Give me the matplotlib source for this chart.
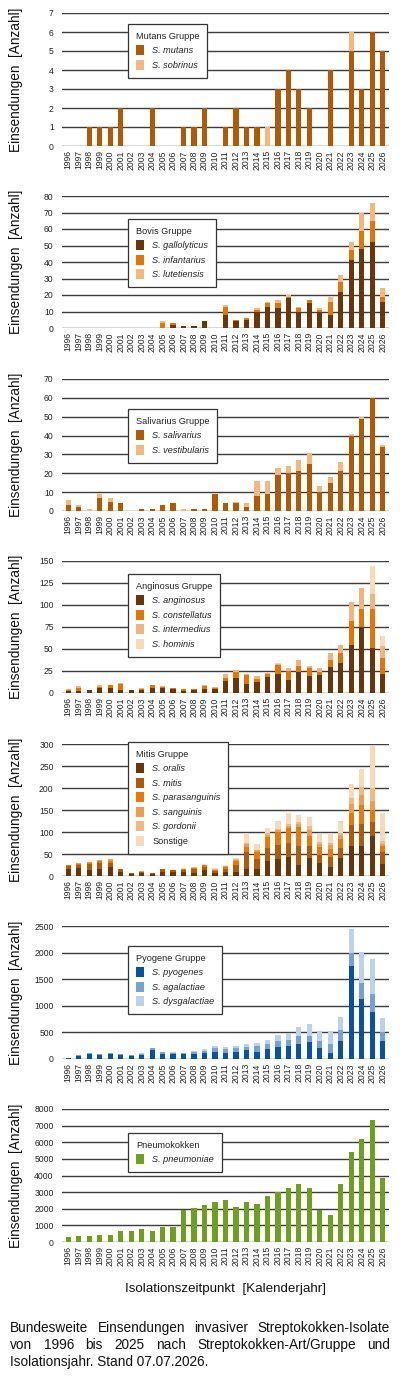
import matplotlib
matplotlib.use('Agg')
import matplotlib.pyplot as plt
import numpy as np
from matplotlib.patches import Patch

plt.rcParams['font.family'] = ['Liberation Sans', 'DejaVu Sans']

years = [str(y) for y in range(1996, 2027)]

# ---------------- data ----------------
mutans_names = ["S. mutans", "S. sobrinus"]
mutans_mutans = [0,0,1,1,1,2,0,0,2,0,0,1,1,2,0,1,2,1,1,0,3,4,3,2,0,4,0,5,3,6,5]
mutans_sobrinus = [0,0,0,0,0,0,0,0,0,0,0,0,0,0,0,0,0,0,0,1,0,0,0,0,0,0,0,1,0,0,0]

bovis_names = ["S. gallolyticus", "S. infantarius", "S. lutetiensis"]
bovis_gallolyticus = [0,0,0,0,0,0,0,0,0,0,2,1,1,4,0,8,4,5,10,13,12,18,10,15,10,8,22,41,48,52,16]
bovis_infantarius = [0,0,0,0,0,0,0,0,0,3,1,0,0,0,0,5,1,1,1,2,3,1,2,2,1,8,6,6,11,13,3]
bovis_lutetiensis = [0,0,0,0,0,0,0,0,0,1,0,0,0,0,0,1,0,0,1,1,2,1,1,0,1,3,4,5,11,11,5]

saliv_names = ["S. salivarius", "S. vestibularis"]
saliv_salivarius = [3,2,0,7,5,4,0,1,1,3,4,0,1,1,9,4,4,2,8,9,19,20,21,25,10,15,21,40,49,60,34]
saliv_vestibularis = [3,1,1,2,2,0,0,0,0,0,0,1,0,0,0,0,1,2,8,7,4,4,6,6,3,3,5,1,1,0,1]

angin_names = ["S. anginosus", "S. constellatus", "S. intermedius", "S. hominis"]
angin_anginosus = [2,2,3,6,6,3,3,3,6,6,4,2,3,5,4,14,17,10,12,18,22,15,24,19,21,29,34,55,75,51,22]
angin_constellatus = [1,4,0,1,3,7,0,2,3,1,2,2,1,3,2,3,7,11,4,4,10,10,7,9,3,9,12,27,21,44,18]
angin_intermedius = [1,2,0,2,0,1,0,1,0,1,0,1,1,1,1,5,2,1,3,1,1,3,7,3,4,7,9,21,23,17,13]
angin_hominis = [0,0,0,0,0,0,0,0,0,0,0,0,0,0,0,0,0,0,0,0,1,0,0,0,0,0,0,0,0,32,12]

mitis_names = ["S. oralis", "S. mitis", "S. parasanguinis", "S. sanguinis", "S. gordonii", "Sonstige"]
mitis_oralis = [15,18,14,17,20,10,4,6,5,10,9,8,6,13,7,9,8,15,17,33,38,44,26,41,30,21,40,69,69,91,27]
mitis_mitis = [8,8,14,12,10,6,2,4,2,5,4,5,9,8,4,8,18,40,22,30,33,32,42,27,18,22,24,48,49,31,28]
mitis_parasanguinis = [1,2,2,4,5,1,0,0,0,1,1,2,3,3,2,3,8,12,15,25,28,32,44,24,19,19,21,26,44,29,13]
mitis_sanguinis = [1,1,2,3,3,0,0,1,0,0,0,1,1,1,1,2,3,5,4,6,5,6,6,12,6,8,9,21,22,20,5]
mitis_gordonii = [0,0,0,0,0,0,0,0,0,0,0,1,1,1,1,1,1,3,2,4,3,5,4,9,5,6,4,13,18,30,6]
mitis_sonstige = [0,0,0,0,0,0,0,0,0,0,0,2,0,2,4,2,4,22,13,11,18,24,17,21,18,22,26,32,41,95,65]

pyo_names = ["S. pyogenes", "S. agalactiae", "S. dysgalactiae"]
pyo_pyogenes = [15,55,100,80,85,75,60,70,175,100,95,90,100,110,135,120,130,170,135,185,225,245,290,320,200,120,340,1740,1130,880,340]
pyo_agalactiae = [10,15,15,15,20,20,20,25,25,25,25,20,30,45,75,75,70,60,100,90,120,115,140,120,140,170,200,260,290,350,170]
pyo_dysgalactiae = [0,0,0,0,0,0,0,10,10,5,5,5,15,25,30,35,40,45,60,80,110,130,170,220,185,235,250,450,590,650,270]

pneumo_names = ["S. pneumoniae"]
pneumo_pneumoniae = [280,350,360,420,420,640,640,770,680,920,880,1920,2060,2200,2400,2520,2100,2430,2280,2740,3000,3260,3480,3240,1930,1650,3480,5420,6220,7320,3830]

group_titles = ["Mutans Gruppe", "Bovis Gruppe", "Salivarius Gruppe", "Anginosus Gruppe",
                "Mitis Gruppe", "Pyogene Gruppe", "Pneumokokken"]

ylabel = "Einsendungen  [Anzahl]"
xlabel = "Isolationszeitpunkt  [Kalenderjahr]"
caption_lines = ["Bundesweite Einsendungen invasiver Streptokokken-Isolate",
                 "von 1996 bis 2025 nach Streptokokken-Art/Gruppe und",
                 "Isolationsjahr. Stand 07.07.2026."]

# ---------------- styles ----------------
panels = [
    (mutans_names, [mutans_mutans, mutans_sobrinus], ["#B05A08", "#F2B880"], 7, 1, 24),
    (bovis_names, [bovis_gallolyticus, bovis_infantarius, bovis_lutetiensis],
     ["#6A3508", "#E07508", "#F2B880"], 80, 10, 219),
    (saliv_names, [saliv_salivarius, saliv_vestibularis], ["#B05A08", "#F2B880"], 70, 10, 409),
    (angin_names, [angin_anginosus, angin_constellatus, angin_intermedius, angin_hominis],
     ["#6A3508", "#E07508", "#F0B57E", "#F8D9BA"], 150, 25, 574),
    (mitis_names, [mitis_oralis, mitis_mitis, mitis_parasanguinis, mitis_sanguinis, mitis_gordonii, mitis_sonstige],
     ["#6A3508", "#B05A08", "#E87808", "#EE9C50", "#F2B880", "#F8D9BA"], 300, 50, 742),
    (pyo_names, [pyo_pyogenes, pyo_agalactiae, pyo_dysgalactiae],
     ["#0A52A0", "#74A2D2", "#BCD2EC"], 2500, 500, 946),
    (pneumo_names, [pneumo_pneumoniae], ["#6E9F1E"], 8000, 1000, 1133),
]

W, H = 400, 1377
fig = plt.figure(figsize=(W/100, H/100), dpi=100)
tops = [13, 196, 379, 561, 744, 926, 1109]
bots = [146, 328, 511, 693, 876, 1059, 1242]
left_px, right_px = 62, 389

x = np.arange(len(years))
for i, (names, series, colors, ymax, step, leg_top) in enumerate(panels):
    t, b = tops[i], bots[i]
    ax = fig.add_axes([left_px/W, 1 - b/H, (right_px-left_px)/W, (b-t)/H])
    bottom = np.zeros(len(years))
    handles = []
    for name, vals, col in zip(names, series, colors):
        v = np.array(vals, dtype=float)
        ax.bar(x, v, width=0.5, bottom=bottom, color=col, zorder=3, linewidth=0)
        bottom += v
        handles.append(Patch(facecolor=col, edgecolor='none', label=name))
    ax.set_xlim(-0.6, len(years) - 0.4)
    ax.set_ylim(0, ymax)
    ax.set_yticks(np.arange(0, ymax + step/2, step))
    ax.yaxis.grid(True, color='#3c3c3c', linewidth=1.0, zorder=0)
    ax.set_axisbelow(True)
    for s in ax.spines.values():
        s.set_visible(False)
    ax.set_xticks(x)
    ax.set_xticklabels(years, rotation=90, fontsize=6.2, color='#222222')
    ax.tick_params(axis='both', length=0, labelsize=6.2, colors='#222222', pad=3)
    ax.tick_params(axis='y', pad=6)
    ax.set_ylabel(ylabel, fontsize=9.8, color='#111111')
    ax.yaxis.set_label_coords(-(62-23)/(right_px-left_px), 0.5)
    leg = ax.legend(handles=handles, title=group_titles[i], loc='upper left',
                    bbox_to_anchor=(128/W, 1 - leg_top/H), bbox_transform=fig.transFigure,
                    fontsize=6.6, title_fontsize=6.6, frameon=True, fancybox=False,
                    framealpha=1, edgecolor='#333333', handlelength=0.9, handleheight=1.25,
                    handletextpad=0.9, borderpad=0.85, labelspacing=0.5, borderaxespad=0)
    leg.get_frame().set_linewidth(0.9)
    leg._legend_box.align = "left"
    for txt, name in zip(leg.get_texts(), names):
        if name.startswith("S."):
            txt.set_style('italic')
        txt.set_color('#222222')
    leg.get_title().set_color('#222222')
    leg.set_zorder(10)
    if i == len(panels) - 1:
        ax.set_xlabel(xlabel, fontsize=9.6, color='#111111')
        ax.xaxis.set_label_coords(0.5, -(1283 - b)/(b - t))

# caption with justified lines
renderer = fig.canvas.get_renderer()
cap_left, cap_right = 10, 390
line_y = [1328, 1345, 1362]
for li, line in enumerate(caption_lines):
    words = line.split(" ")
    yfig = 1 - line_y[li]/H
    if li < len(caption_lines) - 1:
        texts = [fig.text(0, yfig, w, fontsize=9.8, va='center', ha='left', color='#111111') for w in words]
        widths = [tx.get_window_extent(renderer).width for tx in texts]
        gap = (cap_right - cap_left - sum(widths)) / (len(words) - 1)
        xpos = cap_left
        for tx, wd in zip(texts, widths):
            tx.set_x(xpos / W)
            xpos += wd + gap
    else:
        fig.text(cap_left/W, yfig, line, fontsize=9.8, va='center', ha='left', color='#111111')

fig.savefig("out.png", dpi=100)
